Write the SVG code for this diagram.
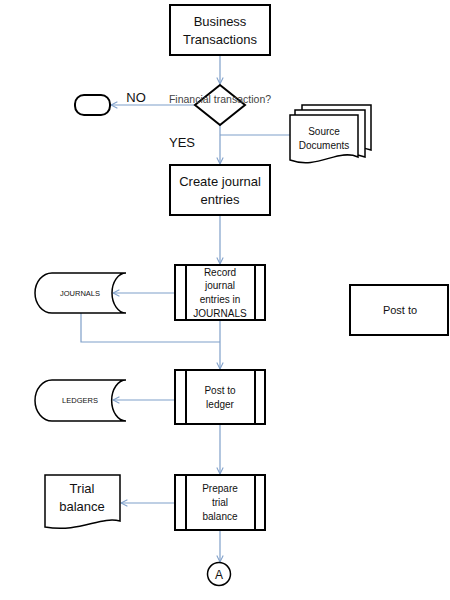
<svg xmlns="http://www.w3.org/2000/svg" width="450" height="600" viewBox="0 0 450 600">
<defs>
<marker id="arr" viewBox="0 0 10 10" refX="9" refY="5" markerWidth="8" markerHeight="8" markerUnits="userSpaceOnUse" orient="auto">
<path d="M1,1 L9,5 L1,9" fill="none" stroke="#7f9fc9" stroke-width="1.3"/>
</marker>
<style>
.box{fill:#fff;stroke:#000;stroke-width:2}
.thin{fill:#fff;stroke:#000;stroke-width:1.5}
.con{fill:none;stroke:#7f9fc9;stroke-width:1.2}
text{font-family:"Liberation Sans",Arial,sans-serif;text-anchor:middle;fill:#111}
.big{font-size:13px}
.med{font-size:10px}
.small{font-size:7.5px}
.gray{fill:#444}
</style>
</defs>
<rect width="450" height="600" fill="#fff"/>
<g id="connectors">
<path class="con" d="M220,55 V84" marker-end="url(#arr)"/>
<path class="con" d="M195,105 H111" marker-end="url(#arr)"/>
<path class="con" d="M220,125 V164" marker-end="url(#arr)"/>
<path class="con" d="M290,135 H220"/>
<path class="con" d="M220,215 V264" marker-end="url(#arr)"/>
<path class="con" d="M175,293 H113" marker-end="url(#arr)"/>
<path class="con" d="M81,313 V342 H220"/>
<path class="con" d="M220,320 V369" marker-end="url(#arr)"/>
<path class="con" d="M175,400 H113" marker-end="url(#arr)"/>
<path class="con" d="M220,424 V474" marker-end="url(#arr)"/>
<path class="con" d="M175,503 H121" marker-end="url(#arr)"/>
<path class="con" d="M220,530 V562" marker-end="url(#arr)"/>
</g>
<g id="business">
<rect class="box" x="170" y="5" width="100" height="50"/>
<text class="big" x="220" y="26">Business</text>
<text class="big" x="220" y="44">Transactions</text>
</g>
<g id="decision">
<path class="box" d="M220,85 L245,105 L220,125 L195,105 Z"/>
<text class="med gray" x="220" y="103" style="font-size:10.5px">Financial transaction?</text>
</g>
<g id="no-label"><text class="big" x="136" y="102">NO</text></g>
<g id="yes-label"><text class="big" x="182" y="147">YES</text></g>
<g id="terminator">
<rect class="box" x="75" y="95" width="35" height="20" rx="9" ry="9"/>
</g>
<g id="source-docs">
<path class="thin" d="M302,105 H371 V150 C355,144 340,152 302,150 Z"/>
<path class="thin" d="M295,110 H365 V157 C348,150 332,160 295,156 Z"/>
<path class="thin" d="M290,115 H358 V157 C338,148 318,170 290,160 Z"/>
<text class="med" x="324" y="135">Source</text>
<text class="med" x="324" y="149">Documents</text>
</g>
<g id="create">
<rect class="box" x="170" y="165" width="100" height="50"/>
<text class="big" x="220" y="186">Create journal</text>
<text class="big" x="220" y="204">entries</text>
</g>
<g id="record">
<rect class="box" x="175" y="265" width="90" height="55"/>
<path class="box" d="M186,265 V320 M255,265 V320"/>
<text class="med" x="220" y="276">Record</text>
<text class="med" x="220" y="289">journal</text>
<text class="med" x="220" y="303">entries in</text>
<text class="med" x="220" y="317">JOURNALS</text>
</g>
<g id="journals">
<path class="thin" d="M52,273 H126 A14,20 0 0 0 126,313 H52 A17,20 0 0 1 52,273 Z"/>
<text class="small" x="80" y="296">JOURNALS</text>
</g>
<g id="post-ledger">
<rect class="box" x="175" y="370" width="90" height="54"/>
<path class="box" d="M186,370 V424 M255,370 V424"/>
<text class="med" x="220" y="394">Post to</text>
<text class="med" x="220" y="408">ledger</text>
</g>
<g id="ledgers">
<path class="thin" d="M52,380 H126 A14,20 0 0 0 126,421 H52 A17,20.5 0 0 1 52,380 Z"/>
<text class="small" x="80" y="403">LEDGERS</text>
</g>
<g id="prepare">
<rect class="box" x="175" y="475" width="90" height="55"/>
<path class="box" d="M186,475 V530 M255,475 V530"/>
<text class="med" x="220" y="492">Prepare</text>
<text class="med" x="220" y="506">trial</text>
<text class="med" x="220" y="520">balance</text>
</g>
<g id="trial-balance">
<path class="thin" d="M45,475 H120 V521 C100,516 80,533 45,527 Z"/>
<text class="big" x="82" y="493">Trial</text>
<text class="big" x="82" y="511">balance</text>
</g>
<g id="connector-a">
<circle class="thin" cx="219" cy="574" r="11.5"/>
<text class="big" x="219" y="579" style="font-size:12px">A</text>
</g>
<g id="post-to">
<rect class="box" x="350" y="285" width="98" height="50"/>
<text class="med" x="400" y="314" style="font-size:11px">Post to</text>
</g>
</svg>
